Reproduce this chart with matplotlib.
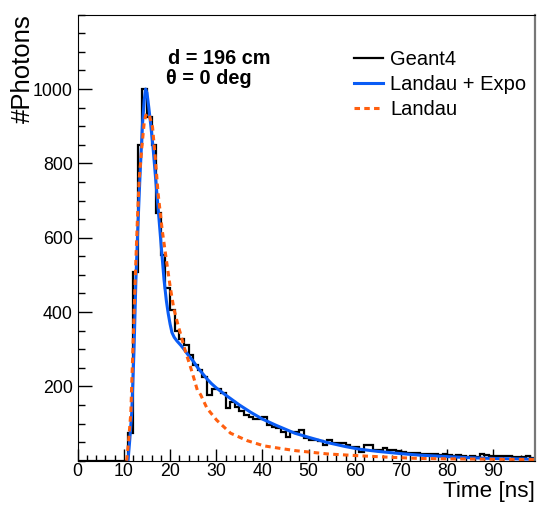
import numpy as np
import matplotlib
matplotlib.use('Agg')
import matplotlib.pyplot as plt
from matplotlib.ticker import MultipleLocator, FixedLocator

plt.rcParams['font.family'] = ['Liberation Sans', 'DejaVu Sans']

# Geant4 histogram, 1 ns bins from 0 to 99 ns
geant4 = [0] * 11 + [
    74, 509, 849, 1000, 925, 849, 666, 553, 464, 405,
    350, 328, 311, 284, 257, 245, 226, 177, 192, 192,
    181, 141, 159, 145, 133, 124, 118, 113, 112, 117,
    96, 91, 89, 78, 65, 78, 78, 82, 62, 56,
    55, 52, 43, 56, 48, 48, 47, 42, 36, 36,
    24, 42, 42, 30, 30, 33, 29, 28, 26, 24,
    20, 22, 21, 19, 19, 17, 17, 16, 18, 15,
    14, 15, 12, 11, 12, 10, 17, 16, 14, 13,
    12, 13, 12, 10, 11, 9, 12, 8]
bin_edges = np.arange(len(geant4) + 1)

# fit Landau + Expo
t_fit = [10.9, 11.3, 11.7, 12.2, 12.6, 13.0, 13.45, 14.0, 14.4, 14.7, 15.0, 15.4,
         15.8, 16.3, 16.9, 17.5, 18.1, 18.7, 19.2, 19.6, 20.0, 20.4, 20.9, 21.5,
         22.3, 23.0, 24.0, 25.0, 26.0, 27.0, 28.0, 29.0, 30.0, 32.0, 35.0, 37.5,
         40.0, 43.0, 47.0, 50.0, 54.0, 58.0, 61.0, 65.0, 70.0, 74.0, 80.0, 85.0,
         90.0, 95.0, 99.0]
y_fit = [0, 60, 128, 300, 486, 620, 755, 900, 970, 1000, 990, 950,
         905, 845, 755, 666, 575, 486, 430, 396, 368, 345, 332, 322,
         311, 300, 283, 268, 250, 235, 220, 207, 196, 177, 150, 130,
         112, 95, 74, 63, 49, 38, 31, 25, 19, 15, 11, 8,
         6, 5, 4]

# Landau seul
t_landau = [10.6, 11.0, 11.5, 12.0, 12.45, 12.9, 13.3, 13.9, 14.4, 14.7, 15.1, 15.6,
            16.2, 16.8, 17.4, 18.3, 19.2, 20.0, 20.8, 21.8, 22.3, 23.3, 24.4, 25.2,
            25.9, 26.6, 28.0, 30.1, 33.1, 36.7, 40.3, 43.9, 47.2, 54.3, 61.5, 68.0,
            74.1, 80.0, 90.0, 99.0]
y_landau = [0, 50, 128, 320, 486, 640, 755, 845, 910, 928, 935, 925,
            898, 815, 720, 620, 540, 470, 410, 361, 340, 295, 253, 220,
            190, 178, 141, 109, 74, 54, 40, 33, 27, 18, 13, 9,
            6, 5, 4, 3]

fig = plt.figure(figsize=(5.38, 5.07), dpi=100)
ax = fig.add_axes([0.1444, 0.0913, 0.8500, 0.8797])

ax.stairs(geant4, bin_edges, color='black', linewidth=1.6, label='Geant4')
ax.plot(t_fit, y_fit, color='#0a5cf5', linewidth=2.2, label='Landau + Expo')
ax.plot(t_landau, y_landau, color='#ff5f0f', linewidth=2.2, linestyle=(0, (1.8, 1.4)),
        label='Landau')

ax.set_xlim(0, 99)
ax.set_ylim(0, 1200)

ax.xaxis.set_major_locator(MultipleLocator(10))
ax.xaxis.set_minor_locator(MultipleLocator(2))
ax.yaxis.set_major_locator(FixedLocator([200, 400, 600, 800, 1000]))
ax.yaxis.set_minor_locator(MultipleLocator(50))
ax.tick_params(axis='both', which='both', direction='in', top=False, right=False,
               labelsize=12.8, width=1)
ax.tick_params(axis='y', which='major', length=10)
ax.tick_params(axis='y', which='minor', length=5)
ax.tick_params(axis='x', which='major', length=8.6, pad=2)
ax.tick_params(axis='x', which='minor', length=4.3)

ax.spines['right'].set_color('#777777')
ax.spines['right'].set_linewidth(1.6)

ax.set_xlabel('Time [ns]', fontsize=16.2, loc='right')
ax.set_ylabel('#Photons', fontsize=18.5, loc='top')
ax.xaxis.set_label_coords(1.0, -0.046)
ax.yaxis.set_label_coords(-0.093, 1.0)

ax.text(0.198, 0.9007, 'd = 196 cm', transform=ax.transAxes, fontsize=14.3,
        fontweight='bold', va='center', ha='left')
ax.text(0.194, 0.857, 'θ = 0 deg', transform=ax.transAxes, fontsize=14.3,
        fontweight='bold', va='center', ha='left')

ax.legend(loc='upper left', bbox_to_anchor=(0.604, 0.920), frameon=False, fontsize=14.5,
          handlelength=1.45, handletextpad=0.35, labelspacing=0.3, borderpad=0,
          borderaxespad=0)

fig.savefig('out.png', dpi=100)
